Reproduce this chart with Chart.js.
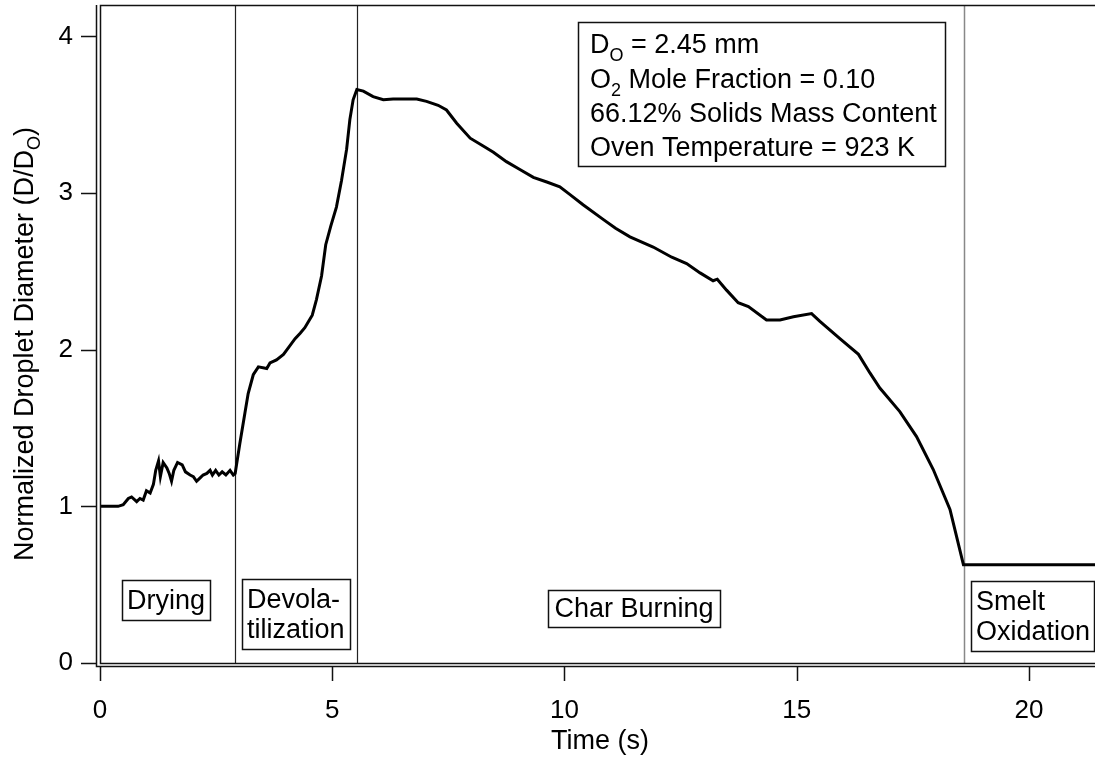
<!DOCTYPE html>
<html>
<head>
<meta charset="utf-8">
<script src="https://cdn.jsdelivr.net/npm/chart.js@4.4.1/dist/chart.umd.min.js"></script>
<style>
  html, body { margin: 0; padding: 0; background: #fff; overflow: hidden; }
  #wrap { width: 1100px; height: 761px; }
</style>
</head>
<body>
<div id="wrap"><canvas id="myChart"></canvas></div>
<script>
// time (s) and normalized droplet diameter D/Do
var timeValues = [
  0, 0.39, 0.50, 0.61, 0.68, 0.79, 0.86, 0.93, 1.00, 1.08, 1.15, 1.20, 1.26, 1.30, 1.36, 1.44,
  1.49, 1.54, 1.59, 1.67, 1.77, 1.84, 1.94, 2.01, 2.08, 2.15, 2.22, 2.30, 2.37, 2.42, 2.49, 2.56,
  2.63, 2.71, 2.80, 2.87, 2.91,
  3.01, 3.12, 3.19, 3.30, 3.41, 3.59, 3.66, 3.80, 3.95, 4.05, 4.20, 4.31, 4.41, 4.47, 4.57, 4.66,
  4.77, 4.86, 4.97, 5.09, 5.20, 5.31, 5.38, 5.45, 5.53,
  5.67, 5.88, 6.10, 6.31, 6.82, 7.03, 7.28, 7.46, 7.68, 7.97, 8.25, 8.47, 8.75, 9.04, 9.33, 9.62,
  9.90, 10.12, 10.40, 10.84, 11.10, 11.41, 11.91, 12.31, 12.63, 12.92, 13.20, 13.29, 13.49, 13.74,
  13.96, 14.35, 14.64, 14.93, 15.32, 15.50, 15.93, 16.33, 16.58, 16.79, 17.22, 17.58, 17.94, 18.30,
  18.44, 18.59, 21.6
];
var diameterValues = [
  1.00, 1.00, 1.01, 1.05, 1.06, 1.03, 1.05, 1.04, 1.10, 1.085, 1.14, 1.23, 1.29, 1.19, 1.28, 1.245,
  1.21, 1.16, 1.23, 1.28, 1.265, 1.22, 1.20, 1.19, 1.16, 1.18, 1.20, 1.21, 1.23, 1.20, 1.23, 1.20,
  1.22, 1.20, 1.23, 1.20, 1.21,
  1.40, 1.595, 1.72, 1.84, 1.89, 1.88, 1.915, 1.935, 1.97, 2.01, 2.07, 2.105, 2.14, 2.17, 2.22, 2.32,
  2.47, 2.67, 2.79, 2.91, 3.08, 3.28, 3.47, 3.595, 3.66,
  3.65, 3.615, 3.595, 3.60, 3.60, 3.585, 3.56, 3.53, 3.445, 3.35, 3.30, 3.26, 3.20, 3.15, 3.10, 3.07,
  3.04, 2.99, 2.925, 2.83, 2.775, 2.72, 2.655, 2.59, 2.55, 2.49, 2.44, 2.45, 2.38, 2.30,
  2.275, 2.19, 2.19, 2.21, 2.23, 2.18, 2.07, 1.97, 1.85, 1.755, 1.605, 1.445, 1.235, 0.98,
  0.81, 0.627, 0.627
];
var phaseBounds = [2.9, 5.53, 18.6];
var phaseNames = [["Drying"], ["Devola-", "tilization"], ["Char Burning"], ["Smelt", "Oxidation"]];
var xTicks = [0, 5, 10, 15, 20];
var yTicks = [0, 1, 2, 3, 4];
// [text, isSubscript]
var infoLines = [
  [["D", 0], ["O", 1], [" = 2.45 mm", 0]],
  [["O", 0], ["2", 1], [" Mole Fraction = 0.10", 0]],
  [["66.12% Solids Mass Content", 0]],
  [["Oven Temperature = 923 K", 0]]
];
var yTitle = [["Normalized Droplet Diameter (D/D", 0], ["O", 1], [")", 0]];

var FONT = '"Liberation Sans", Arial, Helvetica, sans-serif';

function richWidth(ctx, parts, size, subSize) {
  var w = 0;
  parts.forEach(function (p) {
    ctx.font = (p[1] ? subSize : size) + "px " + FONT;
    w += ctx.measureText(p[0]).width;
  });
  return w;
}

function drawRich(ctx, parts, x, y, size, subSize, drop) {
  var cx = x;
  parts.forEach(function (p) {
    ctx.font = (p[1] ? subSize : size) + "px " + FONT;
    ctx.fillText(p[0], cx, y + (p[1] ? drop : 0));
    cx += ctx.measureText(p[0]).width;
  });
}

// label boxes under each phase (pixel layout)
var phaseBoxes = [
  { x: 122, y: 580, w: 88, h: 40, tx: 166, base: [609], align: "center" },
  { x: 242, y: 579, w: 108, h: 70, tx: 247, base: [608, 638], align: "left" },
  { x: 548, y: 590, w: 172, h: 37, tx: 634, base: [617], align: "center" },
  { x: 971, y: 581, w: 123, h: 70, tx: 976, base: [610, 640], align: "left" }
];

var igorFrame = {
  id: "igorFrame",
  beforeDatasetsDraw: function (chart) {
    var ctx = chart.ctx, a = chart.chartArea, xs = chart.scales.x;
    var colors = ["#222", "#222", "#888"];
    ctx.save();
    phaseBounds.forEach(function (b, i) {
      var px = Math.round(xs.getPixelForValue(b)) + 0.5;
      ctx.strokeStyle = colors[i];
      ctx.lineWidth = i === 2 ? 1.5 : 1.2;
      ctx.beginPath();
      ctx.moveTo(px, a.top);
      ctx.lineTo(px, a.bottom);
      ctx.stroke();
    });
    ctx.restore();
  },
  afterDatasetsDraw: function (chart) {
    var ctx = chart.ctx, a = chart.chartArea, xs = chart.scales.x, ys = chart.scales.y;
    ctx.save();
    ctx.strokeStyle = "#111";
    ctx.lineWidth = 1.5;

    // plot frame
    ctx.beginPath();
    ctx.moveTo(chart.width, a.top + 0.5);
    ctx.lineTo(a.left + 0.5, a.top + 0.5);
    ctx.lineTo(a.left + 0.5, a.bottom + 0.5);
    ctx.lineTo(chart.width, a.bottom + 0.5);
    ctx.stroke();

    // offset axes
    var axX = a.left - 4, axY = a.bottom + 3;
    ctx.beginPath();
    ctx.moveTo(axX + 0.5, a.top);
    ctx.lineTo(axX + 0.5, axY + 0.5);
    ctx.lineTo(chart.width, axY + 0.5);
    ctx.stroke();

    ctx.beginPath();
    ys.ticks.forEach(function (t) {
      var py = Math.round(ys.getPixelForValue(t.value)) + 0.5;
      ctx.moveTo(axX - 15, py);
      ctx.lineTo(axX, py);
    });
    xs.ticks.forEach(function (t) {
      var px = Math.round(xs.getPixelForValue(t.value)) + 0.5;
      ctx.moveTo(px, axY);
      ctx.lineTo(px, axY + 15);
    });
    ctx.stroke();

    ctx.fillStyle = "#000";
    ctx.textBaseline = "alphabetic";

    // phase label boxes
    phaseBoxes.forEach(function (b, i) {
      ctx.fillStyle = "#fff";
      ctx.fillRect(b.x, b.y, b.w, b.h);
      ctx.strokeRect(b.x + 0.5, b.y + 0.5, b.w, b.h);
      ctx.fillStyle = "#000";
      ctx.font = "27px " + FONT;
      ctx.textAlign = b.align;
      phaseNames[i].forEach(function (line, j) {
        ctx.fillText(line, b.tx, b.base[j]);
      });
    });

    // info box
    ctx.textAlign = "left";
    ctx.fillStyle = "#fff";
    ctx.fillRect(578, 22, 367, 144);
    ctx.strokeRect(578.5, 22.5, 367, 144);
    ctx.fillStyle = "#000";
    var bases = [53, 88, 122, 156];
    infoLines.forEach(function (line, i) {
      drawRich(ctx, line, 590, bases[i], 27, 18, 8);
    });

    // y axis title
    var w = richWidth(ctx, yTitle, 27, 18);
    ctx.translate(33, (a.top + a.bottom) / 2 + 10);
    ctx.rotate(-Math.PI / 2);
    drawRich(ctx, yTitle, -w / 2, 0, 27, 18, 7);
    ctx.restore();
  }
};

var points = timeValues.map(function (t, i) {
  return { x: t, y: diameterValues[i] };
});

new Chart("myChart", {
  type: "line",
  data: {
    datasets: [
      {
        data: points,
        borderColor: "#000",
        borderWidth: 3,
        pointRadius: 0,
        tension: 0,
        fill: false,
      },
    ],
  },
  options: {
    responsive: true,
    maintainAspectRatio: false,
    animation: false,
    layout: { padding: { top: 5, left: 0, right: 0, bottom: 0 } },
    plugins: {
      legend: { display: false },
      tooltip: { enabled: false },
    },
    scales: {
      x: {
        type: "linear",
        min: 0,
        max: 21.53,
        grid: { display: false, drawTicks: false },
        border: { display: false },
        afterBuildTicks: function (scale) {
          scale.ticks = xTicks.map(function (v) { return { value: v }; });
        },
        afterFit: function (scale) {
          scale.height = 98;
          scale.paddingLeft = 0;
          scale.paddingRight = 0;
        },
        ticks: {
          color: "#000",
          padding: 32,
          maxRotation: 0,
          font: { family: FONT, size: 26 },
        },
        title: {
          display: true,
          text: "Time (s)",
          color: "#000",
          padding: { top: 0, bottom: 3 },
          font: { family: FONT, size: 27 },
        },
      },
      y: {
        min: 0,
        max: 4.2,
        grid: { display: false, drawTicks: false },
        border: { display: false },
        afterBuildTicks: function (scale) {
          scale.ticks = yTicks.map(function (v) { return { value: v }; });
        },
        afterFit: function (scale) {
          scale.width = 100;
          scale.paddingTop = 0;
          scale.paddingBottom = 0;
        },
        ticks: {
          color: "#000",
          padding: 27,
          font: { family: FONT, size: 26 },
        },
      },
    },
  },
  plugins: [igorFrame],
});
</script>
</body>
</html>
